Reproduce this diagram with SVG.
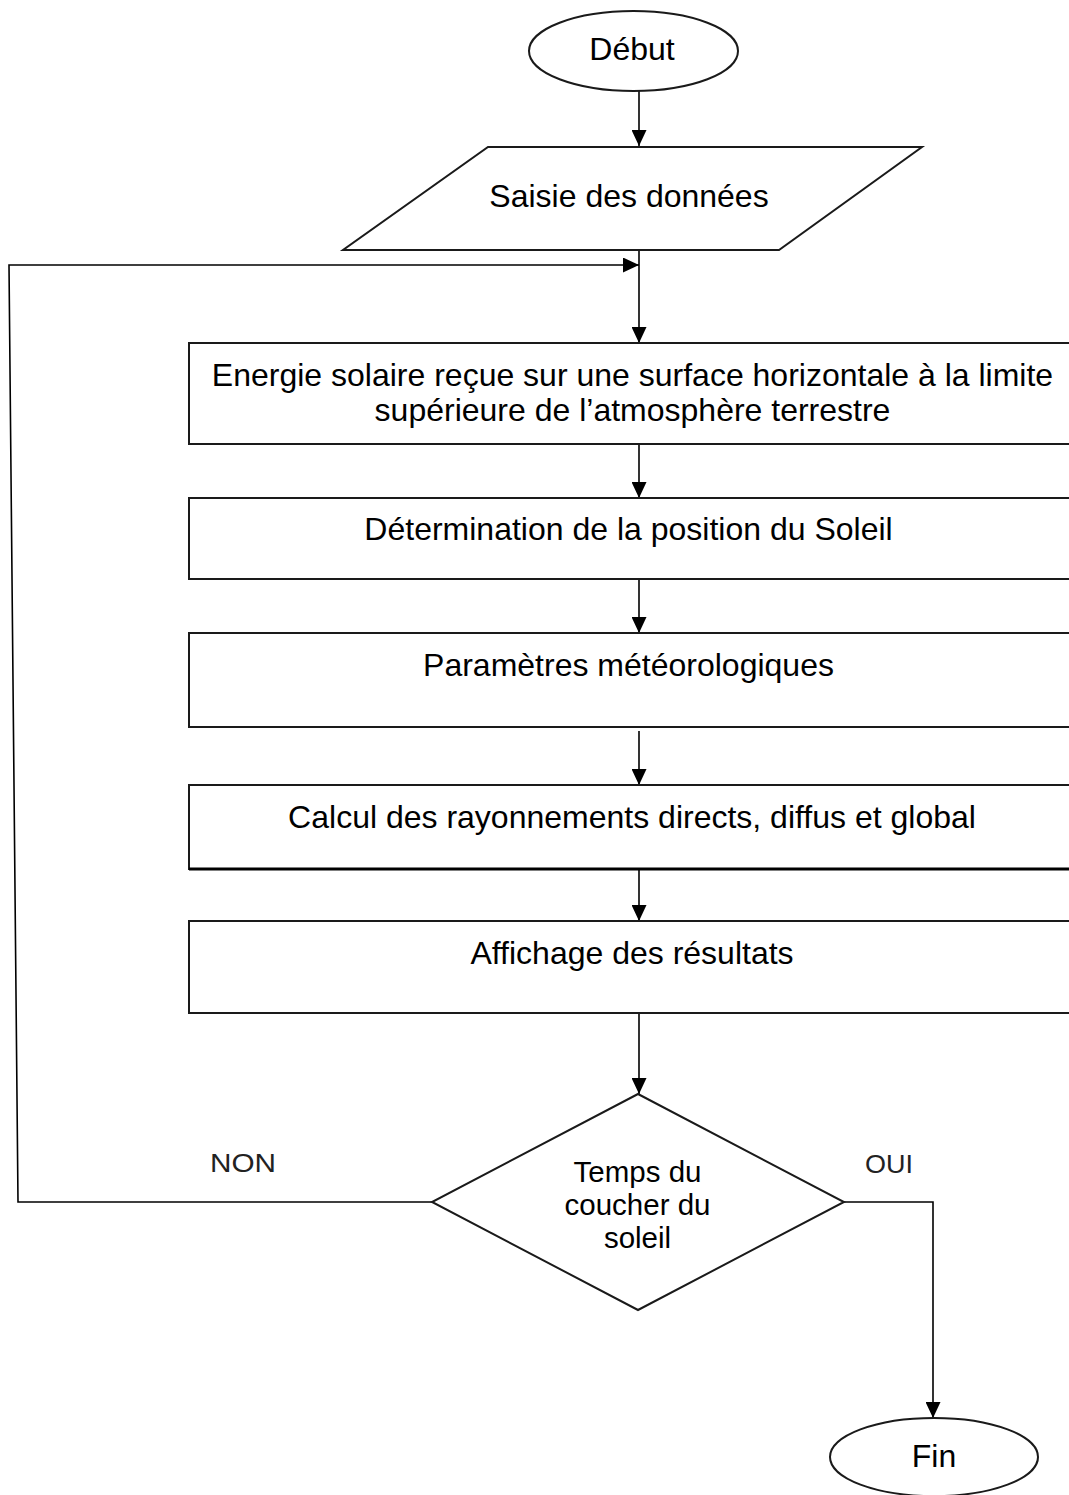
<svg xmlns="http://www.w3.org/2000/svg" width="1069" height="1495" viewBox="0 0 1069 1495">
  <style>
    .shape { fill: #ffffff; stroke: #1a1a1a; stroke-width: 2; }
    .conn { fill: none; stroke: #000000; stroke-width: 1.6; }
    .lbl { font-family: "Liberation Sans", Arial, sans-serif; font-size: 32px; fill: #000000; text-anchor: middle; }
    .dlbl { font-family: "Liberation Sans", Arial, sans-serif; font-size: 29.5px; fill: #000000; text-anchor: middle; }
    .branch { font-family: "Liberation Sans", Arial, sans-serif; font-size: 26px; fill: #222222; }
  </style>
  <defs>
    <marker id="arrow" markerUnits="userSpaceOnUse" markerWidth="16" markerHeight="15" refX="16" refY="7.5" orient="auto">
      <path d="M0,0 L16,7.5 L0,15 z" fill="#000000"/>
    </marker>
  </defs>

  <rect width="1069" height="1495" fill="#ffffff"/>

  <!-- connectors -->
  <g id="connectors">
    <path class="conn" d="M639 91 V146" marker-end="url(#arrow)"/>
    <path class="conn" d="M639 250 V343" marker-end="url(#arrow)"/>
    <path class="conn" d="M432 1202 H18 L9 265 H639" marker-end="url(#arrow)"/>
    <path class="conn" d="M639 444 V498" marker-end="url(#arrow)"/>
    <path class="conn" d="M639 579 V633" marker-end="url(#arrow)"/>
    <path class="conn" d="M639 731 V785" marker-end="url(#arrow)"/>
    <path class="conn" d="M639 869 V921" marker-end="url(#arrow)"/>
    <path class="conn" d="M639 1013 V1094" marker-end="url(#arrow)"/>
    <path class="conn" d="M844 1202 H933 V1418" marker-end="url(#arrow)"/>
    <text class="branch" x="243" y="1172" text-anchor="middle" textLength="66" lengthAdjust="spacingAndGlyphs">NON</text>
    <text class="branch" x="889" y="1173" text-anchor="middle" textLength="48" lengthAdjust="spacingAndGlyphs">OUI</text>
  </g>

  <!-- start -->
  <g id="debut">
    <ellipse class="shape" cx="633.5" cy="51" rx="104.5" ry="40"/>
    <text class="lbl" x="632" y="60">Début</text>
  </g>

  <!-- data input -->
  <g id="saisie">
    <polygon class="shape" points="488,147 922,147 779,250 343,250"/>
    <text class="lbl" x="629" y="207">Saisie des données</text>
  </g>

  <!-- processing steps -->
  <g id="energie">
    <rect class="shape" x="189" y="343" width="900" height="101"/>
    <text class="lbl" x="632.5" y="386">Energie solaire reçue sur une surface horizontale à la limite</text>
    <text class="lbl" x="632.5" y="421">supérieure de l’atmosphère terrestre</text>
  </g>

  <g id="position">
    <rect class="shape" x="189" y="498" width="900" height="81"/>
    <text class="lbl" x="628.5" y="540">Détermination de la position du Soleil</text>
  </g>

  <g id="meteo">
    <rect class="shape" x="189" y="633" width="900" height="94"/>
    <text class="lbl" x="628.5" y="676">Paramètres météorologiques</text>
  </g>

  <g id="calcul">
    <rect class="shape" x="189" y="785" width="900" height="84"/>
    <line x1="189" y1="869" x2="1069" y2="869" stroke="#000000" stroke-width="3"/>
    <text class="lbl" x="632" y="828">Calcul des rayonnements directs, diffus et global</text>
  </g>

  <g id="affichage">
    <rect class="shape" x="189" y="921" width="900" height="92"/>
    <text class="lbl" x="632" y="964">Affichage des résultats</text>
  </g>

  <!-- decision -->
  <g id="decision">
    <polygon class="shape" points="638,1094 844,1202 638,1310 432,1202"/>
    <text class="dlbl" x="637.5" y="1182">Temps du</text>
    <text class="dlbl" x="637.5" y="1215">coucher du</text>
    <text class="dlbl" x="637.5" y="1248">soleil</text>
  </g>

  <!-- end -->
  <g id="fin">
    <ellipse class="shape" cx="934" cy="1457" rx="104" ry="39"/>
    <text class="lbl" x="934" y="1467">Fin</text>
  </g>
</svg>
